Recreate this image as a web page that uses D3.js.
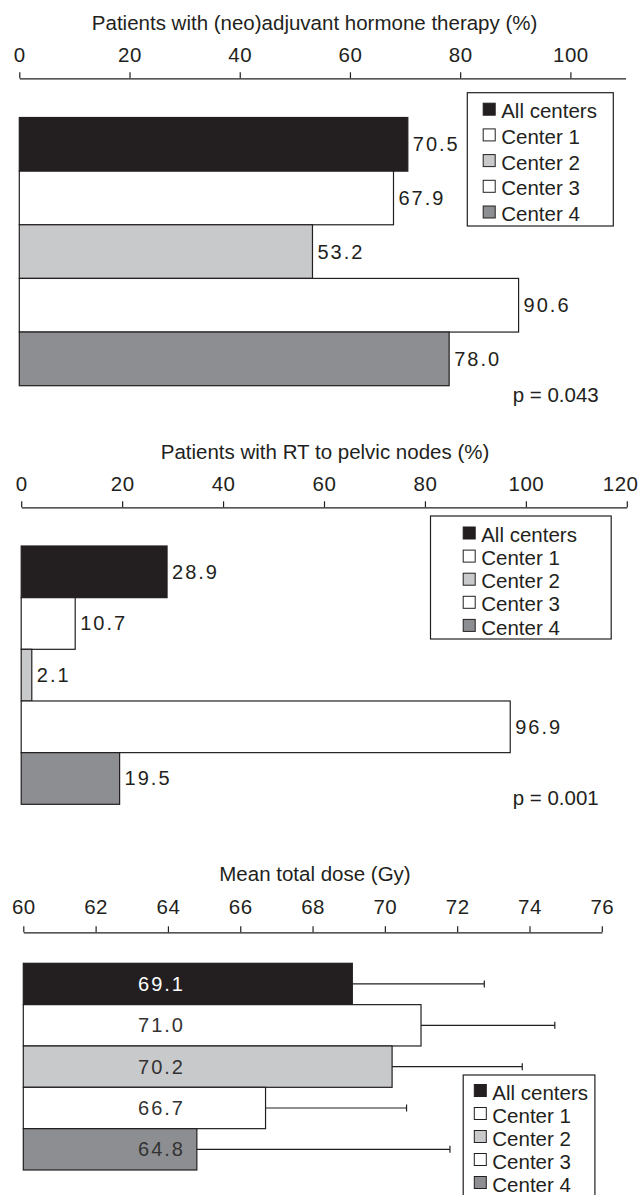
<!DOCTYPE html>
<html>
<head>
<meta charset="utf-8">
<script src="https://cdn.jsdelivr.net/npm/d3@7"></script>
<style>
  html, body { margin: 0; padding: 0; background: #fff; }
  svg { display: block; }
  text { font-family: "Liberation Sans", Arial, Helvetica, sans-serif; fill: #231f20; }
</style>
</head>
<body>
<svg id="chart" width="641" height="1195"></svg>
<script>
// Groups shown in every panel
const centers = ["All centers", "Center 1", "Center 2", "Center 3", "Center 4"];

// Panel 1: share of patients with (neo)adjuvant hormone therapy (%)
const hormoneValues = [70.5, 67.9, 53.2, 90.6, 78.0];
const hormoneTicks = [0, 20, 40, 60, 80, 100];
const hormoneTitle = "Patients with (neo)adjuvant hormone therapy (%)";
const hormoneP = "p = 0.043";

// Panel 2: share of patients with RT to pelvic nodes (%)
const pelvicValues = [28.9, 10.7, 2.1, 96.9, 19.5];
const pelvicTicks = [0, 20, 40, 60, 80, 100, 120];
const pelvicTitle = "Patients with RT to pelvic nodes (%)";
const pelvicP = "p = 0.001";

// Panel 3: mean total dose (Gy) with upper end of the SD whisker
const doseValues = [69.1, 71.0, 70.2, 66.7, 64.8];
const doseUpper = [72.75, 74.7, 73.8, 70.6, 71.8];
const doseTicks = [60, 62, 64, 66, 68, 70, 72, 74, 76];
const doseTitle = "Mean total dose (Gy)";

const ink = "#231f20";
const svgWidth = 641;
const fill = d3.scaleOrdinal()
  .domain(centers)
  .range(["#231f20", "#ffffff", "#c8c9cb", "#ffffff", "#8c8e91"]);

const svg = d3.select("#chart");

function label(parent, x, y, str, o = {}) {
  const t = parent.append("text")
    .attr("x", x).attr("y", y)
    .attr("dy", "0.35em")
    .attr("text-anchor", o.anchor || "start")
    .style("font-size", (o.size || 20.5) + "px")
    .style("letter-spacing", (o.spacing || 0) + "px")
    .text(str);
  if (o.color) t.style("fill", o.color);
  return t;
}

function panel(opt) {
  const g = svg.append("g");
  const x = d3.scaleLinear().domain(opt.domain).range(opt.xRange);
  const y = d3.scaleBand().domain(centers).range(opt.yRange).paddingInner(0);

  // axis title
  label(g, opt.titleX, opt.titleY, opt.title, { anchor: "middle" });

  // top axis with upward ticks
  const axis = d3.axisTop(x).tickValues(opt.ticks).tickSize(6).tickSizeOuter(0)
    .tickPadding(opt.tickPad).tickFormat(d3.format("d"));
  const ag = g.append("g").attr("transform", `translate(0,${opt.axisY})`).call(axis);
  ag.select(".domain").attr("stroke", ink).attr("stroke-width", 1.2);
  ag.selectAll(".tick line").attr("stroke", ink).attr("stroke-width", 1.2);
  ag.selectAll(".tick text")
    .attr("fill", ink)
    .style("font-size", "20.5px")
    .style("letter-spacing", "0.5px")
    .style("font-family", "\"Liberation Sans\", Arial, Helvetica, sans-serif")
    .each(function (d) {
      // keep the right-most tick label inside the page
      const w = this.getComputedTextLength();
      const over = x(d) + w / 2 - (svgWidth - 3);
      if (over > 0) d3.select(this).attr("x", -over);
    });

  // bars
  g.selectAll("rect.bar").data(opt.values).join("rect")
    .attr("class", "bar")
    .attr("x", x(opt.domain[0]))
    .attr("y", (d, i) => y(centers[i]))
    .attr("width", d => x(d) - x(opt.domain[0]))
    .attr("height", y.bandwidth())
    .attr("fill", (d, i) => fill(centers[i]))
    .attr("stroke", ink).attr("stroke-width", 1.2);

  // SD whiskers
  if (opt.upper) {
    opt.values.forEach((d, i) => {
      const cy = y(centers[i]) + y.bandwidth() / 2;
      g.append("line").attr("x1", x(d)).attr("x2", x(opt.upper[i]))
        .attr("y1", cy).attr("y2", cy).attr("stroke", ink).attr("stroke-width", 1.2);
      g.append("line").attr("x1", x(opt.upper[i])).attr("x2", x(opt.upper[i]))
        .attr("y1", cy - 3.5).attr("y2", cy + 3.5).attr("stroke", ink).attr("stroke-width", 1.2);
    });
  }

  // value labels
  opt.values.forEach((d, i) => {
    const cy = y(centers[i]) + y.bandwidth() / 2;
    if (opt.inside) {
      label(g, opt.labelX, cy, d.toFixed(1), {
        anchor: "middle", size: 20, spacing: 2, color: i === 0 ? "#ffffff" : "#333333"
      });
    } else {
      label(g, x(d) + 5, cy, d.toFixed(1), { size: 20, spacing: 2 });
    }
  });

  // p value
  if (opt.p) label(g, opt.pX, opt.pY, opt.p);

  // legend
  const L = opt.legend;
  g.append("rect").attr("x", L.x).attr("y", L.y).attr("width", L.w).attr("height", L.h)
    .attr("fill", "#fff").attr("stroke", ink).attr("stroke-width", 1.2);
  centers.forEach((c, i) => {
    const cy = L.firstY + i * L.step;
    g.append("rect").attr("x", L.swX).attr("y", cy - 8).attr("width", 12).attr("height", 12)
      .attr("fill", fill(c)).attr("stroke", ink).attr("stroke-width", 1);
    label(g, L.swX + 18, cy, c);
  });
}

panel({
  title: hormoneTitle, titleX: 314.6, titleY: 23.3, values: hormoneValues, ticks: hormoneTicks,
  domain: [0, 110], xRange: [19.3, 625.5], axisY: 78.3, tickPad: 10, yRange: [117.5, 385.7],
  p: hormoneP, pX: 512.7, pY: 395,
  legend: { x: 467.3, y: 92.7, w: 146, h: 133.3, firstY: 111.2, step: 25.7, swX: 483.2 }
});

panel({
  title: pelvicTitle, titleX: 325, titleY: 451.7, values: pelvicValues, ticks: pelvicTicks,
  domain: [0, 120], xRange: [21.2, 626.8], axisY: 507.3, tickPad: 10, yRange: [546, 804.3],
  p: pelvicP, pX: 512.7, pY: 797.7,
  legend: { x: 430.5, y: 516, w: 180.7, h: 123, firstY: 535, step: 23.1, swX: 463.2 }
});

panel({
  title: doseTitle, titleX: 315, titleY: 874, values: doseValues, upper: doseUpper, ticks: doseTicks,
  domain: [60, 76], xRange: [23.3, 601.8], axisY: 932.3, tickPad: 12, yRange: [963.3, 1170],
  inside: true, labelX: 161.5,
  legend: { x: 463.2, y: 1075, w: 131.7, h: 140, firstY: 1092.5, step: 23.0, swX: 474.3 }
});
</script>
</body>
</html>
